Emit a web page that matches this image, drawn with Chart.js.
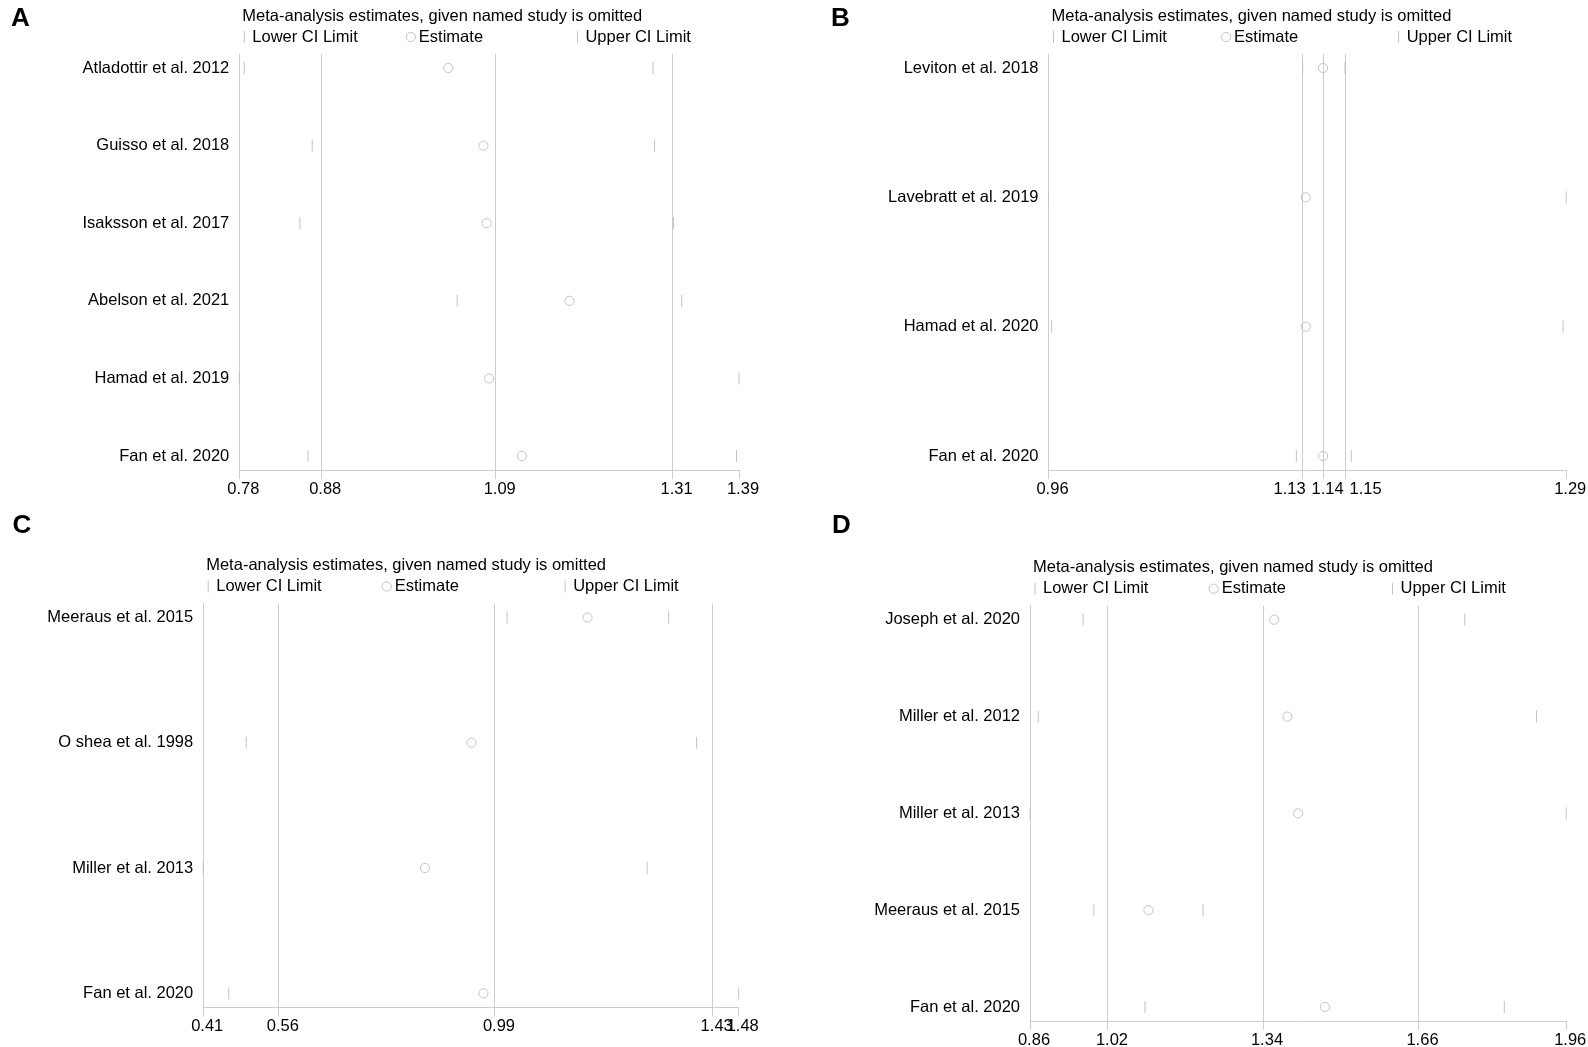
<!DOCTYPE html>
<html>
<head>
<meta charset="utf-8">
<title>Meta-analysis sensitivity plots</title>
<script src="https://cdn.jsdelivr.net/npm/chart.js@4.4.1/dist/chart.umd.min.js"></script>
<style>
  html, body { margin: 0; padding: 0; background: #fff; }
  #page { position: relative; width: 1588px; height: 1047px; overflow: hidden; background: #fff; }
  #page canvas { position: absolute; }
</style>
</head>
<body>
<div id="page">
  <canvas id="chartA" width="794" height="500" style="left:0px;top:0px"></canvas>
  <canvas id="chartB" width="794" height="500" style="left:794px;top:0px"></canvas>
  <canvas id="chartC" width="794" height="547" style="left:0px;top:500px"></canvas>
  <canvas id="chartD" width="794" height="547" style="left:794px;top:500px"></canvas>
</div>
<script>
// Panel A
var studiesA = ['Atladottir et al. 2012', 'Guisso et al. 2018', 'Isaksson et al. 2017',
                'Abelson et al. 2021', 'Hamad et al. 2019', 'Fan et al. 2020'];
var lowerA = [0.786, 0.869, 0.854, 1.046, 0.780, 0.864];
var estA   = [1.035, 1.078, 1.082, 1.183, 1.085, 1.125];
var upperA = [1.285, 1.287, 1.310, 1.320, 1.390, 1.387];
var overallA = [0.880, 1.093, 1.309];   // lower CI, estimate, upper CI (all studies)

// Panel B
var studiesB = ['Leviton et al. 2018', 'Lavebratt et al. 2019', 'Hamad et al. 2020', 'Fan et al. 2020'];
var lowerB = [1.126, 0.964, 0.966, 1.122];
var estB   = [1.139, 1.128, 1.128, 1.139];
var upperB = [1.153, 1.294, 1.292, 1.157];
var overallB = [1.126, 1.139, 1.153];

// Panel C
var studiesC = ['Meeraus et al. 2015', 'O shea et al. 1998', 'Miller et al. 2013', 'Fan et al. 2020'];
var lowerC = [1.017, 0.496, 0.410, 0.461];
var estC   = [1.178, 0.946, 0.853, 0.970];
var upperC = [1.340, 1.396, 1.297, 1.480];
var overallC = [0.561, 0.993, 1.428];

// Panel D
var studiesD = ['Joseph et al. 2020', 'Miller et al. 2012', 'Miller et al. 2013',
                'Meeraus et al. 2015', 'Fan et al. 2020'];
var lowerD = [0.969, 0.877, 0.860, 0.991, 1.096];
var estD   = [1.361, 1.388, 1.410, 1.103, 1.465];
var upperD = [1.752, 1.899, 1.960, 1.215, 1.833];
var overallD = [1.020, 1.338, 1.657];

var legendTitle = 'Meta-analysis estimates, given named study is omitted';
var legendLabels = ['Lower CI Limit', 'Estimate', 'Upper CI Limit'];

var gridGray = '#cdcdcd';
var markGray = '#c4c4c4';
var fontFamily = '"Liberation Sans", Arial, Helvetica, sans-serif';
var fontSize = 16.5;
var rowPad = 14;   // px between plot edge and first / last study row

Chart.defaults.font.family = fontFamily;
Chart.defaults.font.size = fontSize;
Chart.defaults.color = '#000';

// title, legend, panel letter and x tick labels
var panelText = {
    id: 'panelText',
    afterDraw: function (chart) {
        var o = chart.options.plugins.panelText;
        var ctx = chart.ctx;
        var a = chart.chartArea;
        var w = a.right - a.left;
        ctx.save();
        ctx.fillStyle = '#000';
        ctx.textAlign = 'left';

        ctx.font = 'bold 26px ' + fontFamily;
        ctx.textBaseline = 'alphabetic';
        ctx.fillText(o.letter, o.letterX, o.letterY);

        ctx.font = fontSize + 'px ' + fontFamily;
        ctx.textBaseline = 'middle';
        ctx.fillText(legendTitle, a.left + 3, a.top - 38);

        legendLabels.forEach(function (label, k) {
            var mx = a.left + 5 + k * w / 3;
            var my = a.top - 17;
            ctx.strokeStyle = markGray;
            ctx.lineWidth = 1;
            ctx.beginPath();
            if (k === 1) {
                ctx.arc(mx, my, 4.6, 0, 2 * Math.PI);
            } else {
                ctx.moveTo(mx, my - 6);
                ctx.lineTo(mx, my + 6);
            }
            ctx.stroke();
            ctx.fillText(label, mx + 8, my);
        });

        // x labels, pushed apart where they would pile up
        var xs = chart.scales.x;
        var items = xs.ticks.map(function (t) {
            return { text: t.value.toFixed(2), x: xs.getPixelForValue(t.value) + 4 };
        });
        items.sort(function (p, q) { return p.x - q.x; });
        var groups = [];
        items.forEach(function (it) {
            var g = groups[groups.length - 1];
            if (g && it.x - g[g.length - 1].x < 24) g.push(it);
            else groups.push([it]);
        });
        groups.forEach(function (g) {
            if (g.length < 2) return;
            var mid = g.reduce(function (s, it) { return s + it.x; }, 0) / g.length;
            g.forEach(function (it, i) { it.x = mid + (i - (g.length - 1) / 2) * 38; });
        });
        ctx.textAlign = 'center';
        items.forEach(function (it) {
            ctx.fillText(it.text, it.x, xs.top + 19);
        });
        ctx.restore();
    }
};

function buildChart(p) {
    var n = p.studies.length;
    var cl = p.box[0], ct = p.box[1], cw = p.box[2], ch = p.box[3];
    var area = p.area;
    var spacing = (area.bottom - area.top - 2 * rowPad) / (n - 1);
    var yPad = rowPad / spacing;
    var xMin = Math.min.apply(null, p.lower);
    var xMax = Math.max.apply(null, p.upper);
    var tickVals = [xMin].concat(p.overall, [xMax]);

    function pts(vals) {
        return vals.map(function (v, i) { return { x: v, y: i + 1 }; });
    }

    new Chart(document.getElementById(p.id), {
        type: 'scatter',
        data: {
            datasets: [{
                label: legendLabels[0],
                data: pts(p.lower),
                pointStyle: 'line',
                rotation: 90,
                radius: 6,
                borderColor: markGray,
                borderWidth: 1
            }, {
                label: legendLabels[1],
                data: pts(p.est),
                pointStyle: 'circle',
                radius: 4.6,
                borderColor: markGray,
                backgroundColor: 'rgba(0,0,0,0)',
                borderWidth: 1
            }, {
                label: legendLabels[2],
                data: pts(p.upper),
                pointStyle: 'line',
                rotation: 90,
                radius: 6,
                borderColor: markGray,
                borderWidth: 1
            }]
        },
        options: {
            responsive: false,
            animation: false,
            events: [],
            clip: false,
            layout: {
                padding: { left: 0, top: area.top - ct, right: cl + cw - area.right, bottom: 0 }
            },
            plugins: {
                legend: { display: false },
                tooltip: { enabled: false },
                title: { display: false },
                panelText: { letter: p.letter, letterX: p.letterPos[0] - cl, letterY: p.letterPos[1] - ct }
            },
            scales: {
                x: {
                    type: 'linear',
                    min: xMin,
                    max: xMax,
                    afterBuildTicks: function (s) {
                        s.ticks = tickVals.map(function (v) { return { value: v }; });
                    },
                    afterFit: function (s) {
                        s.height = ct + ch - area.bottom;
                        s.paddingLeft = 0;
                        s.paddingRight = 0;
                    },
                    grid: {
                        color: function (c) {
                            return (c.index === 0 || c.index === tickVals.length - 1) ? 'rgba(0,0,0,0)' : gridGray;
                        },
                        tickColor: gridGray,
                        tickLength: 9,
                        lineWidth: 1
                    },
                    border: { display: true, color: gridGray, width: 1 },
                    ticks: { display: false }
                },
                y: {
                    type: 'linear',
                    reverse: true,
                    min: 1 - yPad,
                    max: n + yPad,
                    afterBuildTicks: function (s) {
                        s.ticks = p.studies.map(function (name, i) { return { value: i + 1 }; });
                    },
                    afterFit: function (s) {
                        s.width = area.left - cl;
                        s.paddingTop = 0;
                        s.paddingBottom = 0;
                    },
                    grid: { display: false, drawTicks: false },
                    border: { display: true, color: gridGray, width: 1 },
                    ticks: {
                        autoSkip: false,
                        padding: 10,
                        color: '#000',
                        callback: function (v) { return p.studies[v - 1] || ''; }
                    }
                }
            }
        },
        plugins: [panelText]
    });
}

var panels = [
    { id: 'chartA', letter: 'A', studies: studiesA, lower: lowerA, est: estA, upper: upperA, overall: overallA,
      box: [0, 0, 794, 500], area: { left: 239.3, top: 54, right: 739, bottom: 470 }, letterPos: [11, 26] },
    { id: 'chartB', letter: 'B', studies: studiesB, lower: lowerB, est: estB, upper: upperB, overall: overallB,
      box: [794, 0, 794, 500], area: { left: 1048.5, top: 54, right: 1566.2, bottom: 470 }, letterPos: [831, 26] },
    { id: 'chartC', letter: 'C', studies: studiesC, lower: lowerC, est: estC, upper: upperC, overall: overallC,
      box: [0, 500, 794, 547], area: { left: 203.2, top: 603.5, right: 738.7, bottom: 1007.3 }, letterPos: [12.5, 533.3] },
    { id: 'chartD', letter: 'D', studies: studiesD, lower: lowerD, est: estD, upper: upperD, overall: overallD,
      box: [794, 500, 794, 547], area: { left: 1030, top: 605.7, right: 1566.2, bottom: 1021 }, letterPos: [832, 533.3] }
];

panels.forEach(buildChart);
</script>
</body>
</html>
